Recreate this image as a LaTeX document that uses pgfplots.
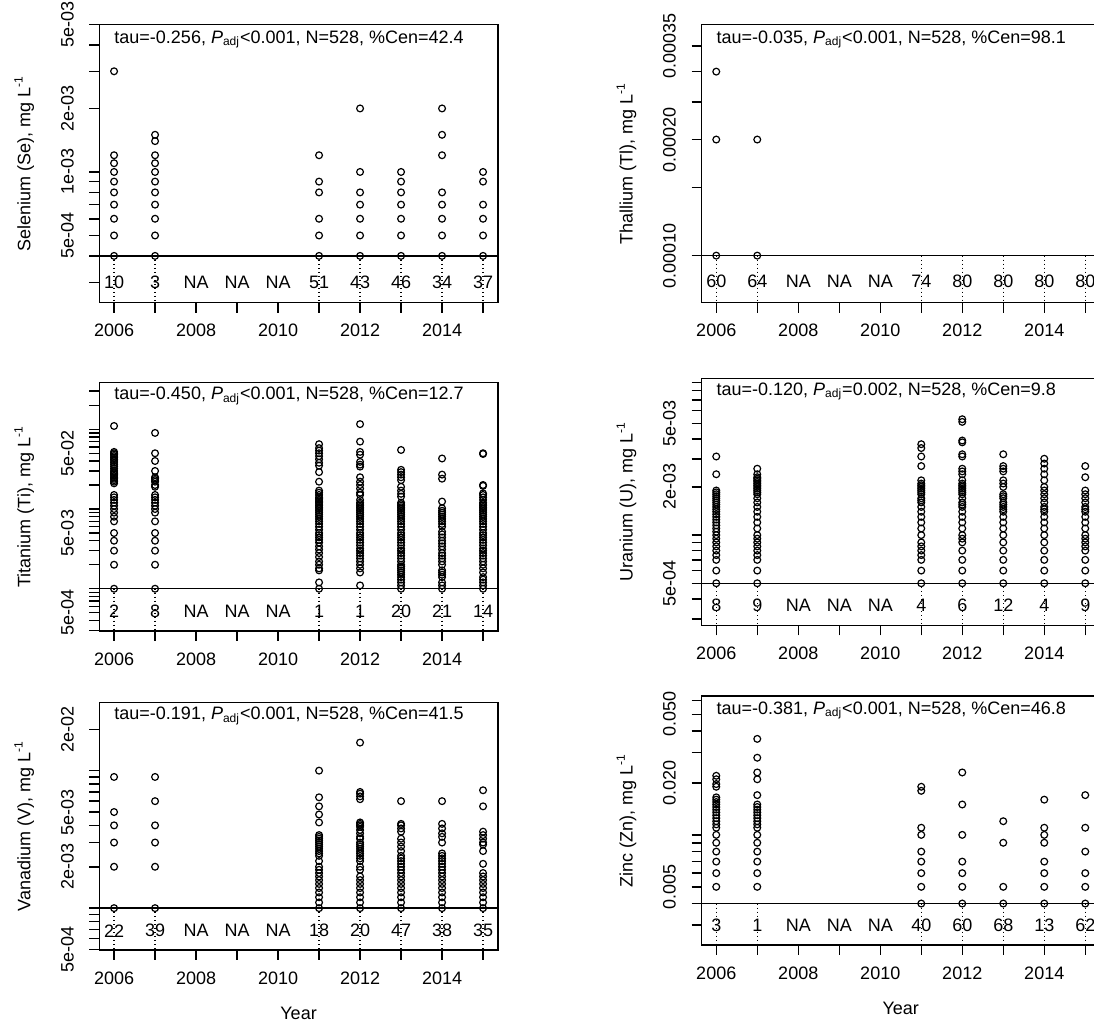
\documentclass[border=0pt]{standalone}
\usepackage{pgfplots}
\pgfplotsset{compat=1.18}
\usepackage{fontspec}
\setmainfont{Liberation Sans}
\newcommand\cnt[3]{\node[anchor=center, inner sep=0pt] at (axis cs:#1,#2) {#3};}
\newcommand\vd[3]{\addplot[mydots] coordinates {(#1,#2)(#1,#3)};}
\newcommand\padj{\textit{P}\textsubscript{adj}}
\pgfplotsset{
  mypanel/.style={
    scale only axis, width=199.25pt,
    xmin=2005.64, xmax=2015.36,
    xtick={2006,2007,2008,2009,2010,2011,2012,2013,2014,2015},
    xticklabels={2006,,2008,,2010,,2012,,2014,{}},
    tick align=outside, tick pos=left, major tick length=5pt,
    axis line style={line width=0.75pt},
    tick style={black, line width=0.75pt},
    xticklabel style={anchor=center, yshift=-9pt},
    yticklabel style={xshift=-11pt, rotate=90, anchor=center},
    every axis y label/.style={at={(axis description cs:0,0.5)}, xshift=-37.5pt, rotate=90, anchor=center},
    every axis x label/.style={at={(axis description cs:0.5,0)}, yshift=-31.5pt, anchor=center},
    font=\fontsize{9}{10.8}\selectfont,
    clip=false,
  },
  mypts/.style={only marks, mark=o, mark size=1.7pt, black, mark options={line width=0.6pt}},
  mydl/.style={black, line width=0.7pt, no marks, sharp plot},
  mydots/.style={black, line width=0.65pt, no marks, sharp plot, dash pattern=on 0.6pt off 1.4pt},
}
\begin{document}
\begin{tikzpicture}
% ---------------- Selenium ----------------
\begin{axis}[ymode=log, mypanel, at={(49.65pt,360.65pt)}, anchor=south west, height=139.2pt,
  ymin=0.00024, ymax=0.00501,
  ytick={0.0003,0.0004,0.0005,0.0006,0.0007,0.0008,0.0009,0.001,0.002,0.003,0.004,0.005},
  yticklabels={,,5e-04,,,,,1e-03,2e-03,,,5e-03},
  ylabel={Selenium (Se), mg L\textsuperscript{-1}}]
\addplot[mydl] coordinates {(2005.64,0.0004)(2015.36,0.0004)};
\vd{2006}{0.0004}{0.00024}\vd{2007}{0.0004}{0.00024}\vd{2011}{0.0004}{0.00024}\vd{2012}{0.0004}{0.00024}
\vd{2013}{0.0004}{0.00024}\vd{2014}{0.0004}{0.00024}\vd{2015}{0.0004}{0.00024}
\addplot[mypts] coordinates {
(2006,0.003)(2006,0.0012)(2006,0.0011)(2006,0.001)(2006,0.0009)(2006,0.0008)(2006,0.0007)(2006,0.0006)(2006,0.0005)(2006,0.0004)
(2007,0.0015)(2007,0.0014)(2007,0.0012)(2007,0.0011)(2007,0.001)(2007,0.0009)(2007,0.0008)(2007,0.0007)(2007,0.0006)(2007,0.0005)(2007,0.0004)
(2011,0.0012)(2011,0.0009)(2011,0.0008)(2011,0.0006)(2011,0.0005)(2011,0.0004)
(2012,0.002)(2012,0.001)(2012,0.0008)(2012,0.0007)(2012,0.0006)(2012,0.0005)(2012,0.0004)
(2013,0.001)(2013,0.0009)(2013,0.0008)(2013,0.0007)(2013,0.0006)(2013,0.0005)(2013,0.0004)
(2014,0.002)(2014,0.0015)(2014,0.0012)(2014,0.0008)(2014,0.0007)(2014,0.0006)(2014,0.0005)(2014,0.0004)
(2015,0.001)(2015,0.0009)(2015,0.0007)(2015,0.0006)(2015,0.0005)(2015,0.0004)};
\cnt{2006}{0.0003}{10}\cnt{2007}{0.0003}{3}\cnt{2008}{0.0003}{NA}\cnt{2009}{0.0003}{NA}\cnt{2010}{0.0003}{NA}
\cnt{2011}{0.0003}{51}\cnt{2012}{0.0003}{43}\cnt{2013}{0.0003}{46}\cnt{2014}{0.0003}{34}\cnt{2015}{0.0003}{37}
\node[anchor=base west, inner sep=0pt] at (rel axis cs:0.037,1) [yshift=-9.4pt] {tau=-0.256, \padj<0.001, N=528, \%Cen=42.4};
\end{axis}
% ---------------- Thallium ----------------
\begin{axis}[ymode=log, mypanel, at={(350.75pt,360.65pt)}, anchor=south west, height=139.2pt,
  ymin=0.0000755, ymax=0.000398,
  ytick={0.0001,0.00015,0.0002,0.00025,0.0003,0.00035},
  yticklabels={0.00010,,0.00020,,,0.00035},
  ylabel={Thallium (Tl), mg L\textsuperscript{-1}}]
\addplot[mydl] coordinates {(2005.64,0.0001)(2015.36,0.0001)};
\vd{2006}{0.0001}{0.0000755}\vd{2007}{0.0001}{0.0000755}\vd{2011}{0.0001}{0.0000755}\vd{2012}{0.0001}{0.0000755}
\vd{2013}{0.0001}{0.0000755}\vd{2014}{0.0001}{0.0000755}\vd{2015}{0.0001}{0.0000755}
\addplot[mypts] coordinates {(2006,0.0003)(2006,0.0002)(2006,0.0001)(2007,0.0002)(2007,0.0001)};
\cnt{2006}{0.0000856}{60}\cnt{2007}{0.0000856}{64}\cnt{2008}{0.0000856}{NA}\cnt{2009}{0.0000856}{NA}\cnt{2010}{0.0000856}{NA}
\cnt{2011}{0.0000856}{74}\cnt{2012}{0.0000856}{80}\cnt{2013}{0.0000856}{80}\cnt{2014}{0.0000856}{80}\cnt{2015}{0.0000856}{80}
\node[anchor=base west, inner sep=0pt] at (rel axis cs:0.037,1) [yshift=-9.4pt] {tau=-0.035, \padj<0.001, N=528, \%Cen=98.1};
\end{axis}
% ---------------- Titanium ----------------
\begin{axis}[ymode=log, mypanel, at={(49.65pt,196.5pt)}, anchor=south west, height=124.15pt,
  ymin=0.000295, ymax=0.384,
  ytick={0.0003,0.0004,0.0005,0.0006,0.0007,0.0008,0.0009,0.001,0.002,0.003,0.004,0.005,0.006,0.007,0.008,0.009,0.01,0.02,0.03,0.04,0.05,0.06,0.07,0.08,0.09,0.1,0.2,0.3},
  yticklabels={,,5e-04,,,,,,,,,5e-03,,,,,,,,,5e-02,,,,,,,},
  ylabel={Titanium (Ti), mg L\textsuperscript{-1}}]
\addplot[mydl] coordinates {(2005.64,0.001)(2015.36,0.001)};
\vd{2006}{0.001}{0.000295}\vd{2007}{0.001}{0.000295}\vd{2011}{0.001}{0.000295}\vd{2012}{0.001}{0.000295}
\vd{2013}{0.001}{0.000295}\vd{2014}{0.001}{0.000295}\vd{2015}{0.001}{0.000295}
\addplot[mypts] coordinates {
(2006,0.11)(2006,0.052)(2006,0.05)(2006,0.048)(2006,0.046)(2006,0.044)(2006,0.042)(2006,0.04)(2006,0.038)(2006,0.036)(2006,0.034)(2006,0.032)(2006,0.03)(2006,0.029)(2006,0.028)(2006,0.027)(2006,0.026)(2006,0.025)(2006,0.024)(2006,0.023)(2006,0.022)(2006,0.021)
(2006,0.015)(2006,0.014)(2006,0.013)(2006,0.012)(2006,0.011)(2006,0.01)(2006,0.009)(2006,0.008)(2006,0.007)(2006,0.005)(2006,0.004)(2006,0.003)(2006,0.002)(2006,0.001)
(2007,0.09)(2007,0.05)(2007,0.04)(2007,0.03)(2007,0.025)(2007,0.024)(2007,0.023)(2007,0.022)(2007,0.02)(2007,0.019)(2007,0.015)(2007,0.014)(2007,0.013)(2007,0.012)(2007,0.011)(2007,0.01)(2007,0.009)(2007,0.007)(2007,0.005)(2007,0.004)(2007,0.003)(2007,0.002)(2007,0.001)
(2011,0.065)(2011,0.058)(2011,0.054)(2011,0.05)(2011,0.046)(2011,0.042)(2011,0.038)(2011,0.035)(2011,0.029)(2011,0.022)(2011,0.017)(2011,0.016)(2011,0.015)(2011,0.014)(2011,0.0135)(2011,0.013)(2011,0.0125)(2011,0.012)(2011,0.0115)(2011,0.011)(2011,0.0105)(2011,0.01)(2011,0.0095)(2011,0.009)(2011,0.0085)(2011,0.008)(2011,0.0075)(2011,0.007)(2011,0.0065)(2011,0.006)(2011,0.0055)(2011,0.005)(2011,0.0047)(2011,0.0044)(2011,0.0041)(2011,0.0038)(2011,0.0034)(2011,0.0031)(2011,0.0028)(2011,0.0025)(2011,0.0022)(2011,0.002)(2011,0.0018)(2011,0.0017)(2011,0.0012)(2011,0.001)
(2012,0.116)(2012,0.07)(2012,0.052)(2012,0.048)(2012,0.039)(2012,0.036)(2012,0.034)(2012,0.025)(2012,0.022)(2012,0.02)(2012,0.018)(2012,0.016)(2012,0.015)(2012,0.013)(2012,0.012)(2012,0.0115)(2012,0.011)(2012,0.0105)(2012,0.01)(2012,0.0095)(2012,0.009)(2012,0.0085)(2012,0.008)(2012,0.0075)(2012,0.007)(2012,0.0065)(2012,0.006)(2012,0.0055)(2012,0.005)(2012,0.0047)(2012,0.0044)(2012,0.0041)(2012,0.0038)(2012,0.0035)(2012,0.0032)(2012,0.003)(2012,0.0028)(2012,0.0026)(2012,0.0024)(2012,0.0022)(2012,0.002)(2012,0.0018)(2012,0.0016)(2012,0.0011)
(2013,0.055)(2013,0.031)(2013,0.029)(2013,0.027)(2013,0.025)(2013,0.023)(2013,0.019)(2013,0.017)(2013,0.0155)(2013,0.0143)(2013,0.012)(2013,0.0115)(2013,0.011)(2013,0.0105)(2013,0.01)(2013,0.0095)(2013,0.009)(2013,0.0085)(2013,0.008)(2013,0.0075)(2013,0.007)(2013,0.0065)(2013,0.006)(2013,0.0055)(2013,0.005)(2013,0.0047)(2013,0.0044)(2013,0.0041)(2013,0.0038)(2013,0.0035)(2013,0.0032)(2013,0.003)(2013,0.0028)(2013,0.0026)(2013,0.0024)(2013,0.0022)(2013,0.002)(2013,0.0019)(2013,0.0018)(2013,0.0017)(2013,0.0016)(2013,0.0015)(2013,0.0014)(2013,0.0013)(2013,0.0012)(2013,0.0011)(2013,0.001)
(2014,0.043)(2014,0.027)(2014,0.024)(2014,0.0124)(2014,0.0102)(2014,0.0095)(2014,0.009)(2014,0.0085)(2014,0.008)(2014,0.0075)(2014,0.007)(2014,0.0065)(2014,0.006)(2014,0.0052)(2014,0.0048)(2014,0.0044)(2014,0.004)(2014,0.0037)(2014,0.0034)(2014,0.0031)(2014,0.0028)(2014,0.0026)(2014,0.0024)(2014,0.0022)(2014,0.002)(2014,0.0017)(2014,0.0016)(2014,0.0015)(2014,0.0014)(2014,0.0012)(2014,0.0011)(2014,0.001)
(2015,0.05)(2015,0.049)(2015,0.02)(2015,0.0195)(2015,0.0157)(2015,0.015)(2015,0.014)(2015,0.013)(2015,0.012)(2015,0.0115)(2015,0.011)(2015,0.0105)(2015,0.01)(2015,0.0095)(2015,0.009)(2015,0.0085)(2015,0.008)(2015,0.0075)(2015,0.007)(2015,0.0065)(2015,0.006)(2015,0.0055)(2015,0.005)(2015,0.0047)(2015,0.0044)(2015,0.0041)(2015,0.0038)(2015,0.0035)(2015,0.0032)(2015,0.003)(2015,0.0028)(2015,0.0026)(2015,0.0024)(2015,0.0022)(2015,0.002)(2015,0.0018)(2015,0.0016)(2015,0.0014)(2015,0.0013)(2015,0.0012)(2015,0.0011)(2015,0.001)};
\cnt{2006}{0.000515}{2}\cnt{2007}{0.000515}{8}\cnt{2008}{0.000515}{NA}\cnt{2009}{0.000515}{NA}\cnt{2010}{0.000515}{NA}
\cnt{2011}{0.000515}{1}\cnt{2012}{0.000515}{1}\cnt{2013}{0.000515}{20}\cnt{2014}{0.000515}{21}\cnt{2015}{0.000515}{14}
\node[anchor=base west, inner sep=0pt] at (rel axis cs:0.037,1) [yshift=-8.5pt] {tau=-0.450, \padj<0.001, N=528, \%Cen=12.7};
\end{axis}
% ---------------- Uranium ----------------
\begin{axis}[ymode=log, mypanel, at={(350.75pt,199.35pt)}, anchor=south west, height=123.5pt,
  ymin=0.000273, ymax=0.00955,
  ytick={0.0003,0.0004,0.0005,0.0006,0.0007,0.0008,0.0009,0.001,0.002,0.003,0.004,0.005,0.006,0.007,0.008,0.009},
  yticklabels={,,5e-04,,,,,,2e-03,,,5e-03,,,,},
  ylabel={Uranium (U), mg L\textsuperscript{-1}}]
\addplot[mydl] coordinates {(2005.64,0.0005)(2015.36,0.0005)};
\vd{2006}{0.0005}{0.000273}\vd{2007}{0.0005}{0.000273}\vd{2011}{0.0005}{0.000273}\vd{2012}{0.0005}{0.000273}
\vd{2013}{0.0005}{0.000273}\vd{2014}{0.0005}{0.000273}\vd{2015}{0.0005}{0.000273}
\addplot[mypts] coordinates {
(2006,0.0031)(2006,0.0024)(2006,0.0019)(2006,0.00185)(2006,0.0018)(2006,0.00175)(2006,0.0017)(2006,0.00165)(2006,0.0016)(2006,0.00155)(2006,0.0015)(2006,0.00145)(2006,0.0014)(2006,0.00135)(2006,0.0013)(2006,0.00125)(2006,0.0012)(2006,0.00115)(2006,0.0011)(2006,0.00105)(2006,0.001)(2006,0.00095)(2006,0.0009)(2006,0.00085)(2006,0.0008)(2006,0.00075)(2006,0.0007)(2006,0.0006)(2006,0.0005)
(2007,0.0026)(2007,0.0024)(2007,0.0023)(2007,0.00225)(2007,0.0022)(2007,0.00215)(2007,0.0021)(2007,0.00205)(2007,0.002)(2007,0.00195)(2007,0.0019)(2007,0.00185)(2007,0.0018)(2007,0.0017)(2007,0.0016)(2007,0.0015)(2007,0.0014)(2007,0.0013)(2007,0.0012)(2007,0.0011)(2007,0.001)(2007,0.00095)(2007,0.0009)(2007,0.00085)(2007,0.0008)(2007,0.00075)(2007,0.0007)(2007,0.0006)(2007,0.0005)
(2011,0.0037)(2011,0.0035)(2011,0.0031)(2011,0.0027)(2011,0.0022)(2011,0.0021)(2011,0.00205)(2011,0.002)(2011,0.00195)(2011,0.0019)(2011,0.00185)(2011,0.0018)(2011,0.0017)(2011,0.00165)(2011,0.0016)(2011,0.0015)(2011,0.0014)(2011,0.0013)(2011,0.0012)(2011,0.0011)(2011,0.001)(2011,0.0009)(2011,0.00085)(2011,0.0008)(2011,0.00075)(2011,0.0007)(2011,0.0006)(2011,0.0005)
(2012,0.0053)(2012,0.0051)(2012,0.0039)(2012,0.0038)(2012,0.0032)(2012,0.0031)(2012,0.0026)(2012,0.0025)(2012,0.0024)(2012,0.0022)(2012,0.0021)(2012,0.00205)(2012,0.002)(2012,0.00195)(2012,0.0019)(2012,0.00185)(2012,0.0018)(2012,0.0017)(2012,0.0016)(2012,0.00155)(2012,0.0015)(2012,0.0014)(2012,0.0013)(2012,0.0012)(2012,0.0011)(2012,0.001)(2012,0.00095)(2012,0.0009)(2012,0.0008)(2012,0.0007)(2012,0.0006)(2012,0.0005)
(2013,0.0032)(2013,0.0027)(2013,0.0026)(2013,0.0025)(2013,0.0022)(2013,0.0021)(2013,0.002)(2013,0.0018)(2013,0.00175)(2013,0.0017)(2013,0.0016)(2013,0.00155)(2013,0.0015)(2013,0.00145)(2013,0.0014)(2013,0.0013)(2013,0.0012)(2013,0.0011)(2013,0.001)(2013,0.0009)(2013,0.0008)(2013,0.0007)(2013,0.0006)(2013,0.0005)
(2014,0.003)(2014,0.0028)(2014,0.0026)(2014,0.0024)(2014,0.0022)(2014,0.002)(2014,0.0019)(2014,0.0018)(2014,0.0017)(2014,0.0016)(2014,0.0015)(2014,0.00145)(2014,0.0014)(2014,0.0013)(2014,0.0012)(2014,0.0011)(2014,0.001)(2014,0.0009)(2014,0.0008)(2014,0.0007)(2014,0.0006)(2014,0.0005)
(2015,0.0027)(2015,0.0023)(2015,0.0019)(2015,0.0018)(2015,0.0017)(2015,0.0016)(2015,0.0015)(2015,0.00145)(2015,0.0014)(2015,0.0013)(2015,0.0012)(2015,0.0011)(2015,0.001)(2015,0.00095)(2015,0.0009)(2015,0.00085)(2015,0.0008)(2015,0.0007)(2015,0.0006)(2015,0.0005)};
\cnt{2006}{0.000362}{8}\cnt{2007}{0.000362}{9}\cnt{2008}{0.000362}{NA}\cnt{2009}{0.000362}{NA}\cnt{2010}{0.000362}{NA}
\cnt{2011}{0.000362}{4}\cnt{2012}{0.000362}{6}\cnt{2013}{0.000362}{12}\cnt{2014}{0.000362}{4}\cnt{2015}{0.000362}{9}
\node[anchor=base west, inner sep=0pt] at (rel axis cs:0.037,1) [yshift=-8.5pt] {tau=-0.120, \padj=0.002, N=528, \%Cen=9.8};
\end{axis}
% ---------------- Vanadium ----------------
\begin{axis}[ymode=log, mypanel, at={(49.65pt,37pt)}, anchor=south west, height=123.65pt,
  ymin=0.000496, ymax=0.0312,
  ytick={0.0005,0.0006,0.0007,0.0008,0.0009,0.001,0.002,0.003,0.004,0.005,0.006,0.007,0.008,0.009,0.01,0.02},
  yticklabels={5e-04,,,,,,2e-03,,,5e-03,,,,,,2e-02},
  ylabel={Vanadium (V), mg L\textsuperscript{-1}}, xlabel={Year}]
\addplot[mydl] coordinates {(2005.64,0.001)(2015.36,0.001)};
\vd{2006}{0.001}{0.000496}\vd{2007}{0.001}{0.000496}\vd{2011}{0.001}{0.000496}\vd{2012}{0.001}{0.000496}
\vd{2013}{0.001}{0.000496}\vd{2014}{0.001}{0.000496}\vd{2015}{0.001}{0.000496}
\addplot[mypts] coordinates {
(2006,0.009)(2006,0.005)(2006,0.004)(2006,0.003)(2006,0.002)(2006,0.001)
(2007,0.009)(2007,0.006)(2007,0.004)(2007,0.003)(2007,0.002)(2007,0.001)
(2011,0.01)(2011,0.0064)(2011,0.0055)(2011,0.0048)(2011,0.0042)(2011,0.0034)(2011,0.0033)(2011,0.0032)(2011,0.0031)(2011,0.003)(2011,0.0029)(2011,0.0028)(2011,0.0027)(2011,0.0026)(2011,0.0025)(2011,0.0024)(2011,0.0022)(2011,0.002)(2011,0.0019)(2011,0.0018)(2011,0.0017)(2011,0.0016)(2011,0.0015)(2011,0.0014)(2011,0.0013)(2011,0.0012)(2011,0.0011)(2011,0.001)
(2012,0.016)(2012,0.007)(2012,0.0068)(2012,0.0065)(2012,0.0062)(2012,0.0042)(2012,0.0041)(2012,0.004)(2012,0.0039)(2012,0.0037)(2012,0.0035)(2012,0.0033)(2012,0.0032)(2012,0.003)(2012,0.0029)(2012,0.0028)(2012,0.0027)(2012,0.0026)(2012,0.0025)(2012,0.0024)(2012,0.0023)(2012,0.0022)(2012,0.002)(2012,0.0019)(2012,0.0017)(2012,0.0016)(2012,0.0015)(2012,0.0014)(2012,0.0013)(2012,0.0012)(2012,0.0011)(2012,0.001)
(2013,0.006)(2013,0.0041)(2013,0.004)(2013,0.0038)(2013,0.0036)(2013,0.0032)(2013,0.003)(2013,0.0028)(2013,0.0026)(2013,0.0024)(2013,0.0023)(2013,0.0022)(2013,0.0021)(2013,0.002)(2013,0.0019)(2013,0.0018)(2013,0.0017)(2013,0.0016)(2013,0.0015)(2013,0.0014)(2013,0.0013)(2013,0.0012)(2013,0.0011)(2013,0.001)
(2014,0.006)(2014,0.0041)(2014,0.0038)(2014,0.0035)(2014,0.0033)(2014,0.003)(2014,0.0025)(2014,0.0024)(2014,0.0023)(2014,0.0022)(2014,0.0021)(2014,0.002)(2014,0.0019)(2014,0.0018)(2014,0.0017)(2014,0.0016)(2014,0.0015)(2014,0.0014)(2014,0.0013)(2014,0.0012)(2014,0.0011)(2014,0.001)
(2015,0.0072)(2015,0.0055)(2015,0.0036)(2015,0.0034)(2015,0.0032)(2015,0.003)(2015,0.0029)(2015,0.0026)(2015,0.0021)(2015,0.0018)(2015,0.0017)(2015,0.0016)(2015,0.0015)(2015,0.0014)(2015,0.0013)(2015,0.0012)(2015,0.0011)(2015,0.001)};
\cnt{2006}{0.000685}{22}\cnt{2007}{0.000685}{39}\cnt{2008}{0.000685}{NA}\cnt{2009}{0.000685}{NA}\cnt{2010}{0.000685}{NA}
\cnt{2011}{0.000685}{18}\cnt{2012}{0.000685}{20}\cnt{2013}{0.000685}{47}\cnt{2014}{0.000685}{38}\cnt{2015}{0.000685}{35}
\node[anchor=base west, inner sep=0pt] at (rel axis cs:0.037,1) [yshift=-8.5pt] {tau=-0.191, \padj<0.001, N=528, \%Cen=41.5};
\end{axis}
% ---------------- Zinc ----------------
\begin{axis}[ymode=log, mypanel, at={(350.75pt,39.5pt)}, anchor=south west, height=124.5pt,
  ymin=0.0023, ymax=0.0638,
  ytick={0.003,0.004,0.005,0.006,0.007,0.008,0.009,0.01,0.02,0.03,0.04,0.05,0.06},
  yticklabels={,,0.005,,,,,,0.020,,,0.050,},
  ylabel={Zinc (Zn), mg L\textsuperscript{-1}}, xlabel={Year}]
\addplot[mydl] coordinates {(2005.64,0.004)(2015.36,0.004)};
\vd{2006}{0.004}{0.0023}\vd{2007}{0.004}{0.0023}\vd{2011}{0.004}{0.0023}\vd{2012}{0.004}{0.0023}
\vd{2013}{0.004}{0.0023}\vd{2014}{0.004}{0.0023}\vd{2015}{0.004}{0.0023}
\addplot[mypts] coordinates {
(2006,0.022)(2006,0.021)(2006,0.0197)(2006,0.019)(2006,0.0165)(2006,0.016)(2006,0.0155)(2006,0.015)(2006,0.0145)(2006,0.014)(2006,0.0135)(2006,0.013)(2006,0.0125)(2006,0.012)(2006,0.0115)(2006,0.011)(2006,0.01)(2006,0.009)(2006,0.008)(2006,0.007)(2006,0.006)(2006,0.005)
(2007,0.036)(2007,0.028)(2007,0.023)(2007,0.021)(2007,0.017)(2007,0.015)(2007,0.0145)(2007,0.014)(2007,0.0135)(2007,0.013)(2007,0.0125)(2007,0.012)(2007,0.0115)(2007,0.011)(2007,0.01)(2007,0.009)(2007,0.008)(2007,0.007)(2007,0.006)(2007,0.005)
(2011,0.019)(2011,0.018)(2011,0.011)(2011,0.01)(2011,0.008)(2011,0.007)(2011,0.006)(2011,0.005)(2011,0.004)
(2012,0.023)(2012,0.015)(2012,0.01)(2012,0.007)(2012,0.006)(2012,0.005)(2012,0.004)
(2013,0.012)(2013,0.009)(2013,0.005)(2013,0.004)
(2014,0.016)(2014,0.011)(2014,0.01)(2014,0.009)(2014,0.007)(2014,0.006)(2014,0.005)(2014,0.004)
(2015,0.017)(2015,0.011)(2015,0.008)(2015,0.006)(2015,0.005)(2015,0.004)};
\cnt{2006}{0.003}{3}\cnt{2007}{0.003}{1}\cnt{2008}{0.003}{NA}\cnt{2009}{0.003}{NA}\cnt{2010}{0.003}{NA}
\cnt{2011}{0.003}{40}\cnt{2012}{0.003}{60}\cnt{2013}{0.003}{68}\cnt{2014}{0.003}{13}\cnt{2015}{0.003}{62}
\node[anchor=base west, inner sep=0pt] at (rel axis cs:0.037,1) [yshift=-9pt] {tau=-0.381, \padj<0.001, N=528, \%Cen=46.8};
\end{axis}
\pgfresetboundingbox
\path[use as bounding box] (0,0) rectangle (547pt,512pt);
\end{tikzpicture}
\end{document}
